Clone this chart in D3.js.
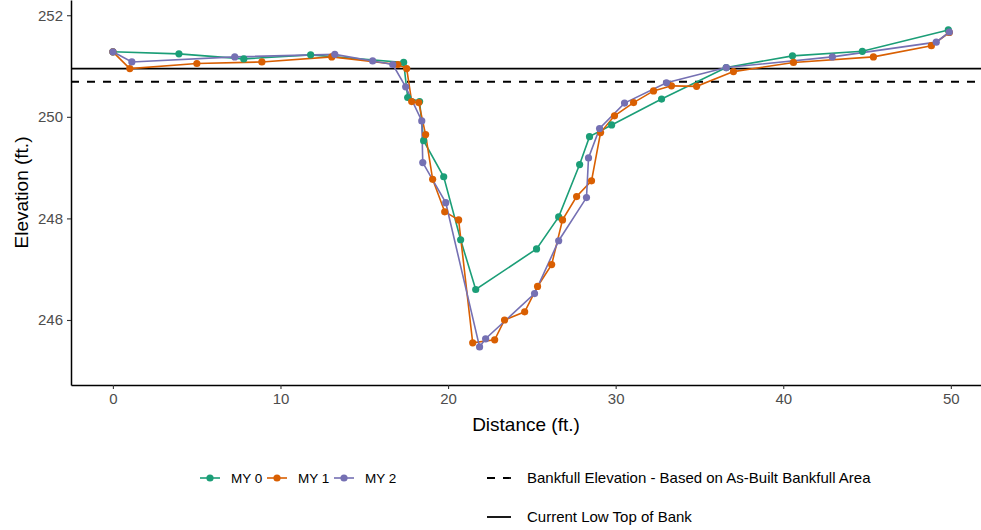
<!DOCTYPE html>
<html>
<head>
<meta charset="utf-8">
<script src="https://cdn.jsdelivr.net/npm/d3@7"></script>
<style>
  body { margin: 0; background: #fff; }
  text { font-family: "Liberation Sans", Arial, sans-serif; }
</style>
</head>
<body>
<div id="chart"></div>
<script>
// Cross-section survey data
const my0Dist = [0, 3.94, 7.81, 11.8, 17.35, 17.59, 18.3, 18.54, 19.74, 20.75, 21.65, 25.28, 26.6, 27.85, 28.44, 29.76, 32.74, 36.6, 40.55, 44.72, 49.85];
const my0Elev = [251.28, 251.24, 251.14, 251.22, 251.07, 250.38, 250.30, 249.53, 248.82, 247.58, 246.60, 247.40, 248.03, 249.06, 249.61, 249.84, 250.35, 250.97, 251.20, 251.29, 251.71];

const my1Dist = [0, 1.01, 5.01, 8.89, 13.06, 17.0, 17.53, 17.83, 18.25, 18.66, 19.08, 19.8, 20.63, 21.47, 22.78, 23.37, 24.57, 25.34, 26.18, 26.83, 27.67, 28.56, 29.1, 29.93, 31.07, 32.26, 33.33, 34.83, 37.03, 40.61, 45.38, 48.84, 49.91];
const my1Elev = [251.28, 250.95, 251.05, 251.08, 251.18, 251.03, 250.95, 250.30, 250.28, 249.65, 248.77, 248.13, 247.97, 245.55, 245.61, 246.0, 246.16, 246.66, 247.09, 247.97, 248.43, 248.74, 249.69, 250.02, 250.28, 250.51, 250.61, 250.60, 250.89, 251.07, 251.18, 251.40, 251.66];

const my2Dist = [0, 1.13, 7.27, 13.24, 15.5, 16.7, 17.47, 18.43, 18.49, 19.86, 21.88, 22.24, 25.16, 26.6, 28.26, 28.38, 29.04, 30.53, 33.03, 36.6, 42.93, 49.13, 49.91];
const my2Elev = [251.28, 251.08, 251.18, 251.23, 251.10, 251.03, 250.59, 249.92, 249.10, 248.31, 245.47, 245.63, 246.52, 247.56, 248.41, 249.19, 249.77, 250.27, 250.67, 250.97, 251.18, 251.47, 251.67];

const seriesNames = ['MY 0', 'MY 1', 'MY 2'];
const bankfullElev = 250.69;
const lowTopBankElev = 250.95;
const xTicks = [0, 10, 20, 30, 40, 50];
const yTicks = [246, 248, 250, 252];

const width = 981;
const height = 530;
const panel = { left: 71, right: 981, top: 0, bottom: 385 };
const colors = ['#1B9E77', '#D95F02', '#7570B3'];

const series = [
    { name: seriesNames[0], dist: my0Dist, elev: my0Elev },
    { name: seriesNames[1], dist: my1Dist, elev: my1Elev },
    { name: seriesNames[2], dist: my2Dist, elev: my2Elev }
].map((s, i) => ({
    name: s.name,
    color: colors[i],
    points: s.dist.map((d, j) => ({ x: d, y: s.elev[j] }))
}));

const svg = d3.select('#chart')
    .append('svg')
    .attr('width', width)
    .attr('height', height);

// Scales (panel covers slightly more than the data range)
const x = d3.scaleLinear()
    .domain([-2.5, 51.8])
    .range([panel.left, panel.right]);

const y = d3.scaleLinear()
    .domain([244.72, 252.3])
    .range([panel.bottom, panel.top]);

// Reference lines
svg.append('line')
    .attr('x1', panel.left).attr('x2', panel.right)
    .attr('y1', y(lowTopBankElev)).attr('y2', y(lowTopBankElev))
    .attr('stroke', '#000').attr('stroke-width', 1.8);

svg.append('line')
    .attr('x1', panel.left).attr('x2', panel.right)
    .attr('y1', y(bankfullElev)).attr('y2', y(bankfullElev))
    .attr('stroke', '#000').attr('stroke-width', 1.8)
    .attr('stroke-dasharray', '8,8');

// Series lines
const line = d3.line().x(d => x(d.x)).y(d => y(d.y));

svg.append('g')
    .selectAll('path')
    .data(series)
    .enter()
    .append('path')
    .attr('d', d => line(d.points))
    .attr('fill', 'none')
    .attr('stroke', d => d.color)
    .attr('stroke-width', 1.6);

// Series points
svg.append('g')
    .selectAll('g')
    .data(series)
    .enter()
    .append('g')
    .attr('fill', d => d.color)
    .selectAll('circle')
    .data(d => d.points)
    .enter()
    .append('circle')
    .attr('cx', d => x(d.x))
    .attr('cy', d => y(d.y))
    .attr('r', 3.6);

// Axes
const xAxis = svg.append('g')
    .attr('transform', `translate(0,${panel.bottom})`)
    .call(d3.axisBottom(x).tickValues(xTicks).tickSize(4).tickSizeOuter(0).tickPadding(4));

const yAxis = svg.append('g')
    .attr('transform', `translate(${panel.left},0)`)
    .call(d3.axisLeft(y).tickValues(yTicks).tickSize(4).tickSizeOuter(0).tickPadding(4));

[xAxis, yAxis].forEach(g => {
    g.select('.domain').attr('stroke', '#000').attr('stroke-width', 1.5);
    g.selectAll('.tick line').attr('stroke', '#333').attr('stroke-width', 1.1);
    g.selectAll('.tick text')
        .attr('fill', '#4D4D4D')
        .style('font-size', '15px')
        .style('font-family', '"Liberation Sans", Arial, sans-serif');
});

// Axis titles
svg.append('text')
    .attr('x', (panel.left + panel.right) / 2)
    .attr('y', 431)
    .attr('text-anchor', 'middle')
    .style('font-size', '19px')
    .text('Distance (ft.)');

svg.append('text')
    .attr('transform', `translate(28,${(panel.top + panel.bottom) / 2}) rotate(-90)`)
    .attr('text-anchor', 'middle')
    .style('font-size', '19px')
    .text('Elevation (ft.)');

// Legend: series
const legend = svg.append('g');
const keyCenter = 210;
const keyStep = 67;
const row1 = 478;

const seriesKeys = legend.selectAll('g.series-key')
    .data(series)
    .enter()
    .append('g')
    .attr('class', 'series-key')
    .attr('transform', (d, i) => `translate(${keyCenter + i * keyStep},${row1})`);

seriesKeys.append('line')
    .attr('x1', -10).attr('x2', 10)
    .attr('stroke', d => d.color)
    .attr('stroke-width', 1.6);

seriesKeys.append('circle')
    .attr('r', 3.6)
    .attr('fill', d => d.color);

seriesKeys.append('text')
    .attr('x', 21).attr('dy', '0.35em')
    .style('font-size', '13.5px')
    .text(d => d.name);

// Legend: reference lines
const refKeys = [
    { label: 'Bankfull Elevation - Based on As-Built Bankfull Area', dash: '8,8', y: row1 },
    { label: 'Current Low Top of Bank', dash: null, y: 517 }
];

const refLegend = legend.selectAll('g.ref-key')
    .data(refKeys)
    .enter()
    .append('g')
    .attr('class', 'ref-key')
    .attr('transform', d => `translate(487,${d.y})`);

refLegend.append('line')
    .attr('x1', 0).attr('x2', 24)
    .attr('stroke', '#000')
    .attr('stroke-width', 1.8)
    .attr('stroke-dasharray', d => d.dash);

refLegend.append('text')
    .attr('x', 40).attr('dy', '0.35em')
    .style('font-size', '15px')
    .text(d => d.label);
</script>
</body>
</html>
